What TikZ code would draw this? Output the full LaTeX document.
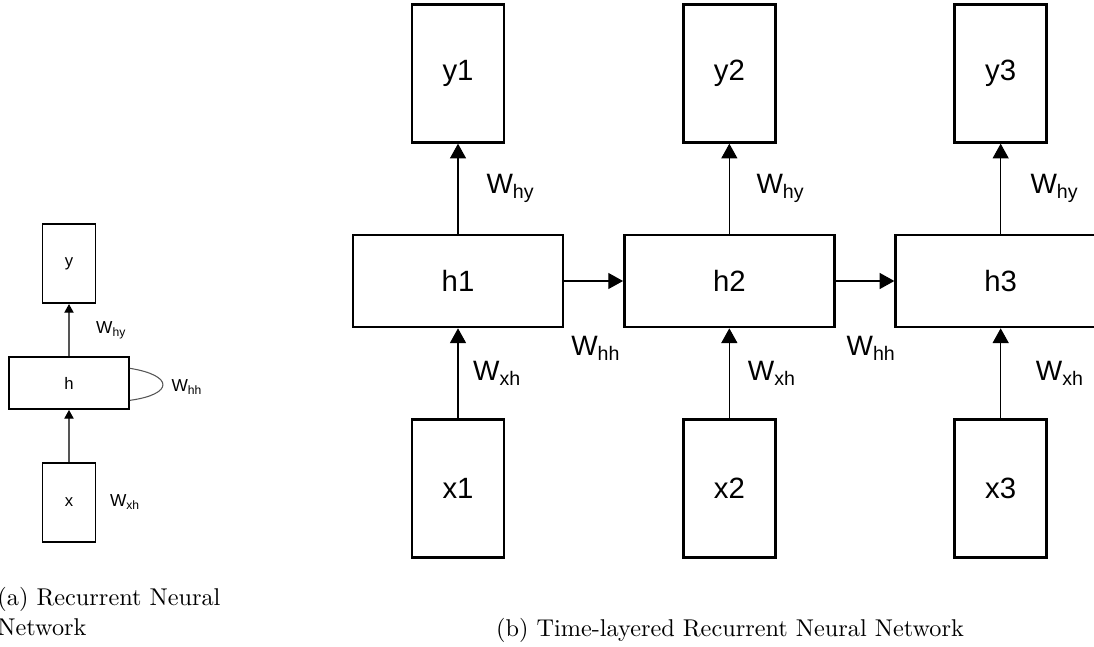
\documentclass[tikz,border=0pt]{standalone}
\usepackage{fontspec}
\newfontfamily\arialfont{Liberation Sans}
\usetikzlibrary{arrows.meta, positioning}
\definecolor{loopgray}{RGB}{85,85,85}
\newcommand{\Wlab}[1]{W\textsubscript{#1}}
\tikzset{
  cell/.style={rectangle,draw,line width=2pt,fill=white,inner sep=0pt,font=\arialfont\fontsize{22}{26}\selectfont},
  outcell/.style={cell,minimum width=69pt,minimum height=103.5pt},
  hidcell/.style={cell,minimum width=157.5pt,minimum height=69pt},
  minicell/.style={rectangle,draw,line width=1.4pt,fill=white,inner sep=0pt,font=\arialfont\fontsize{12.5}{15}\selectfont},
  miniout/.style={minicell,minimum width=39.75pt,minimum height=59.25pt},
  minihid/.style={minicell,minimum width=90pt,minimum height=39pt},
  wlab/.style={font=\arialfont\fontsize{21}{25}\selectfont,inner sep=0pt},
  swlab/.style={font=\arialfont\fontsize{13}{15}\selectfont,inner sep=0pt},
  line/.style={-{Triangle[length=11pt,width=12pt]},line width=0.8pt},
  sline/.style={-{Triangle[length=6.5pt,width=7pt,color=black]},line width=0.8pt,draw=loopgray},
  caption/.style={font=\normalsize,scale=1.82,transform shape,inner sep=0pt}
}

\begin{document}
\begin{tikzpicture}[x=0.75pt,y=-0.75pt,node distance=67.5pt and 44pt]
\useasboundingbox (0,0) rectangle (1094,646);

% folded network
\node[minihid] (h) at (69,383) {h};
\node[miniout, above=39pt of h] (y) {y};
\node[miniout, below=39pt of h] (x) {x};
\draw[sline] (h) -- node[swlab, right=20pt] (why) {\Wlab{hy}} (y);
\draw[sline] (x) -- (h);
\node[swlab, right=10pt of x] (wxh) {\Wlab{xh}};
\draw[draw=loopgray, line width=0.8pt] ([yshift=11pt]h.east) .. controls +(44,7) and +(44,-6) .. ([yshift=-13pt]h.east);
\node[swlab, anchor=west] (whh) at ([xshift=31pt,yshift=-3pt]h.east) {\Wlab{hh}};

% unrolled over time
\node[hidcell] (h1) at (458,281) {h1};
\node[hidcell, right=of h1] (h2) {h2};
\node[hidcell, right=of h2] (h3) {h3};
\node[outcell, above=of h1] (y1) {y1};
\node[outcell, above=of h2] (y2) {y2};
\node[outcell, above=of h3] (y3) {y3};
\node[outcell, below=of h1] (x1) {x1};
\node[outcell, below=of h2] (x2) {x2};
\node[outcell, below=of h3] (x3) {x3};

\draw[line] (h1) -- node[wlab, right=21pt] (why1) {\Wlab{hy}} (y1);
\draw[line] (h2) -- node[wlab, right=20pt] (why2) {\Wlab{hy}} (y2);
\draw[line] (h3) -- node[wlab, right=22pt] (why3) {\Wlab{hy}} (y3);
\draw[line] (x1) -- node[wlab, right=11pt] (wxh1) {\Wlab{xh}} (h1);
\draw[line] (x2) -- node[wlab, right=13.5pt] (wxh2) {\Wlab{xh}} (h2);
\draw[line] (x3) -- node[wlab, right=26pt] (wxh3) {\Wlab{xh}} (h3);
\draw[line] (h1) -- (h2);
\draw[line] (h2) -- (h3);
\node[wlab, anchor=north west] (whh1) at ([xshift=5pt,yshift=-6pt]h1.south east) {\Wlab{hh}};
\node[wlab, anchor=north west] (whh2) at ([xshift=8pt,yshift=-6pt]h2.south east) {\Wlab{hh}};

% captions
\node[caption, anchor=base west, align=left] (capa) at (-3,635) {(a) Recurrent Neural\\Network};
\node[caption, anchor=base] (capb) at (730,636) {(b) Time-layered Recurrent Neural Network};
\end{tikzpicture}
\end{document}
